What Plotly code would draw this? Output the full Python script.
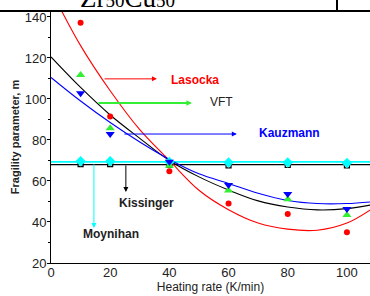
import plotly.graph_objects as go

# measured data
rate = [10, 20, 40, 60, 80, 100]
m_lasocka = [137.2, 91.4, 64.7, 49.0, 43.9, 35.0]
m_vft = [111.7, 85.7, 67.4, 55.3, 51.1, 43.4]
m_kauzmann = [102.8, 82.9, 69.4, 58.0, 53.7, 46.3]
m_moynihan = [69.6, 69.6, 69.3, 69.0, 69.0, 68.8]
m_kissinger = [68.2, 68.2, 68.0, 67.6, 67.8, 67.6]

# fitted curves
fit_rate = [0, 10, 20, 30, 40, 50, 60, 70, 80, 90, 100, 108]
fit_lasocka = [153, 126, 104, 85, 70, 55.5, 46, 39.5, 36.5, 36, 39.5, 46]
fit_vft = [120.5, 105.6, 92.2, 80.8, 70, 62, 55.6, 50.3, 47.3, 45.9, 46.5, 48.3]
fit_kauzmann = [110.5, 99, 88.5, 79, 70.5, 63.5, 58.8, 54, 50.5, 49, 49, 49.8]
flat_rate = [0, 108]
fit_moynihan = [69.3, 69.3]
fit_kissinger = [68.0, 68.0]

RED = "#ff0000"
GREEN = "#33ee33"
BLUE = "#0000ff"
CYAN = "#00ffff"
BLACK = "#000000"

fig = go.Figure()

# fit lines
fig.add_trace(go.Scatter(x=flat_rate, y=fit_kissinger, mode="lines",
                         line=dict(color=BLACK, width=1.2)))
fig.add_trace(go.Scatter(x=flat_rate, y=fit_moynihan, mode="lines",
                         line=dict(color=CYAN, width=1.8)))
fig.add_trace(go.Scatter(x=fit_rate, y=fit_lasocka, mode="lines",
                         line=dict(color=RED, width=1.1, shape="spline")))
fig.add_trace(go.Scatter(x=fit_rate, y=fit_vft, mode="lines",
                         line=dict(color=BLACK, width=1.1, shape="spline")))
fig.add_trace(go.Scatter(x=fit_rate, y=fit_kauzmann, mode="lines",
                         line=dict(color=BLUE, width=1.1, shape="spline")))

# markers
fig.add_trace(go.Scatter(x=rate, y=m_kissinger, mode="markers",
                         marker=dict(symbol="square-open", size=5, color=BLACK,
                                     line=dict(width=1.2, color=BLACK))))
fig.add_trace(go.Scatter(x=rate, y=m_moynihan, mode="markers",
                         marker=dict(symbol="diamond", size=8, color=CYAN)))
fig.add_trace(go.Scatter(x=rate, y=m_lasocka, mode="markers",
                         marker=dict(symbol="circle", size=6, color=RED)))
fig.add_trace(go.Scatter(x=rate, y=m_vft, mode="markers",
                         marker=dict(symbol="triangle-up", size=8, color=GREEN)))
fig.add_trace(go.Scatter(x=rate, y=m_kauzmann, mode="markers",
                         marker=dict(symbol="triangle-down", size=8, color=BLUE)))

def arrow(x0, y0, x1, y1, color, width=1, size=1):
    fig.add_annotation(x=x1, y=y1, ax=x0, ay=y0, xref="x", yref="y",
                       axref="x", ayref="y", text="", showarrow=True,
                       arrowhead=2, arrowsize=size, arrowwidth=width,
                       arrowcolor=color, standoff=0, startstandoff=0)

arrow(17.6, 109.8, 35.8, 109.8, RED)
arrow(15.5, 98.0, 47.6, 98.0, GREEN, 2, 0.55)
arrow(24.3, 82.9, 62.8, 82.9, BLUE)
arrow(25.3, 68.3, 25.3, 54.6, BLACK)
arrow(14.5, 68.8, 14.5, 37.1, CYAN)

def label(x, y, text, color, bold=True):
    fig.add_annotation(x=x, y=y, xref="x", yref="y", text=f"<b>{text}</b>" if bold else text,
                       showarrow=False, xanchor="left", yanchor="middle",
                       font=dict(family="Liberation Sans, Arial", size=12, color=color))

label(39.8, 109.3, "Lasocka", RED)
label(53.0, 98.5, "VFT", "#222222", bold=False)
label(69.5, 83.4, "Kauzmann", BLUE)
label(22.2, 49.3, "Kissinger", "#222222")
label(10.1, 34.1, "Moynihan", "#222222")

# cropped title above the frame
fig.add_annotation(x=0.24, y=1.0, xref="paper", yref="paper", xanchor="center",
                   yanchor="bottom", showarrow=False, yshift=-4,
                   text="Zr<span style='font-size:19px'>50</span>Cu<span style='font-size:19px'>50</span>",
                   font=dict(family="Liberation Serif, Times New Roman", size=27, color=BLACK))

# frame lines at the top of the crop
fig.add_shape(type="line", xref="paper", yref="paper", x0=-0.17, x1=1.01, y0=1.0, y1=1.0,
              line=dict(color=BLACK, width=2))
fig.add_shape(type="line", xref="paper", yref="paper", x0=0.8966, x1=0.8966, y0=1.0, y1=1.06,
              line=dict(color=BLACK, width=2))

fig.update_layout(
    width=370, height=296,
    margin=dict(l=51, r=0, t=11, b=33),
    paper_bgcolor="white", plot_bgcolor="white",
    showlegend=False,
    font=dict(family="Liberation Sans, Arial", color="#222222"),
)
fig.update_xaxes(range=[0, 107.8], tickvals=[0, 20, 40, 60, 80, 100],
                 showgrid=False, zeroline=False, showline=True, linecolor=BLACK, linewidth=1,
                 ticks="", ticklabelstandoff=-3, tickfont=dict(size=13, color="#222222"),
                 title=dict(text="Heating rate (K/min)", font=dict(size=12, color="#222222"),
                            standoff=3))
fig.update_yaxes(range=[20, 142.9], tickvals=[20, 40, 60, 80, 100, 120, 140],
                 showgrid=False, zeroline=False, showline=True, linecolor=BLACK, linewidth=1,
                 ticks="outside", ticklen=3, tickcolor=BLACK, ticklabelstandoff=-2,
                 minor=dict(tickvals=[30, 50, 70, 90, 110, 130], ticks="outside", ticklen=2,
                            tickcolor=BLACK),
                 tickfont=dict(size=13, color="#222222"),
                 title=dict(text="<b>Fragility parameter, m</b>", font=dict(size=11, color="#222222"),
                            standoff=2))

fig.write_html("out.html", config={"displayModeBar": False},
               post_script="document.body.style.margin='0';document.body.style.overflow='hidden';")
